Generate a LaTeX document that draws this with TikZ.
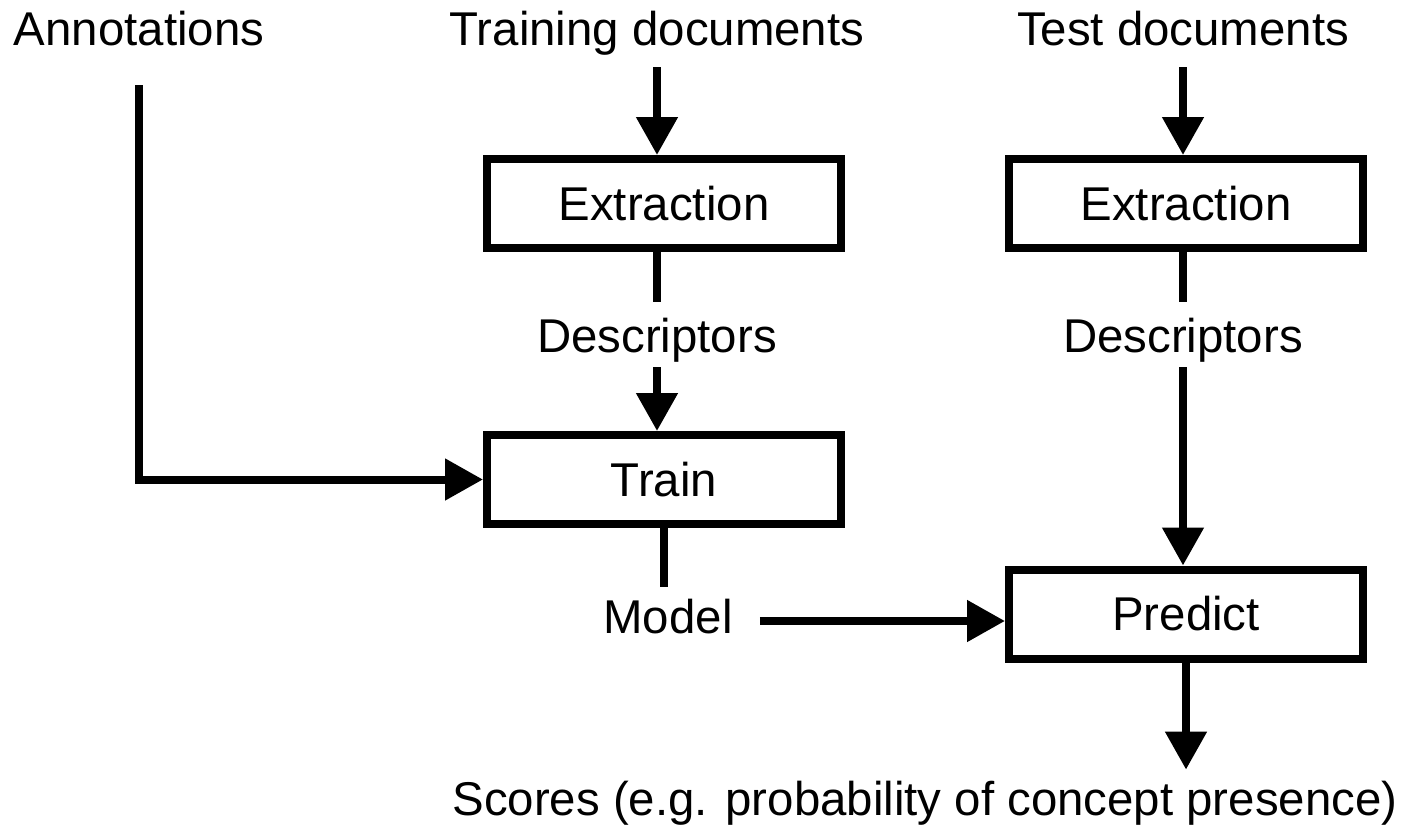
\documentclass[tikz,border=0pt]{standalone}
\usepackage{fontspec}
\setmainfont{Liberation Sans}
\usepackage{tikz}
\usetikzlibrary{arrows.meta}
\tikzstyle{box} = [draw, line width=4pt, minimum width=177pt, minimum height=44.5pt, inner sep=0pt, font=\fontsize{23.7pt}{28pt}\selectfont]
\tikzstyle{lbl} = [inner sep=0pt, anchor=base, text height=17pt, text depth=5pt, font=\fontsize{23.7pt}{28pt}\selectfont]
\tikzstyle{wire} = [line width=4pt]
\tikzstyle{arr} = [line width=4pt, -{Triangle[length=19pt,width=20pt]}]

\begin{document}
\begin{tikzpicture}[x=0.5pt, y=-0.5pt]
\useasboundingbox (0,0) rectangle (1418,830);
% inputs
\node[lbl] (annot) at (139,45) {Annotations};
\node[lbl] (tdoc) at (657,45) {Training documents};
\node[lbl] (sdoc) at (1183,45) {Test documents};
% boxes
\node[box] (ext1) at (664,203.5) {Extraction};
\node[box] (ext2) at (1186,203.5) {Extraction};
\node[box] (train) at (664,479.5) {Train};
\node[box] (pred) at (1186,614) {Predict};
% intermediate results
\node[lbl] (desc1) at (657,352) {Descriptors};
\node[lbl] (desc2) at (1183,352) {Descriptors};
\node[lbl] (model) at (668,633) {Model};
\node[lbl] (score) at (925,815) {Scores (e.g. probability of concept presence)};
% training branch
\draw[arr, shorten <=6pt] (tdoc.south) -- (tdoc.south |- ext1.north);
\draw[wire, shorten >=8pt] (desc1.north |- ext1.south) -- (desc1.north);
\draw[arr, shorten <=2.5pt] (desc1.south) -- (desc1.south |- train.north);
\draw[arr, shorten <=15pt] (annot.south) |- (train.west);
\draw[wire, shorten >=6pt] (train.south) -- (train.south |- model.north);
% test branch
\draw[arr, shorten <=6pt] (sdoc.south) -- (sdoc.south |- ext2.north);
\draw[wire, shorten >=8pt] (desc2.north |- ext2.south) -- (desc2.north);
\draw[arr, shorten <=2.5pt] (desc2.south) -- (desc2.south |- pred.north);
\draw[arr, shorten <=13.5pt] (model.east) -- (model.east -| pred.west);
\draw[arr, shorten >=5.5pt] (pred.south) -- (pred.south |- score.north);
\end{tikzpicture}
\end{document}
